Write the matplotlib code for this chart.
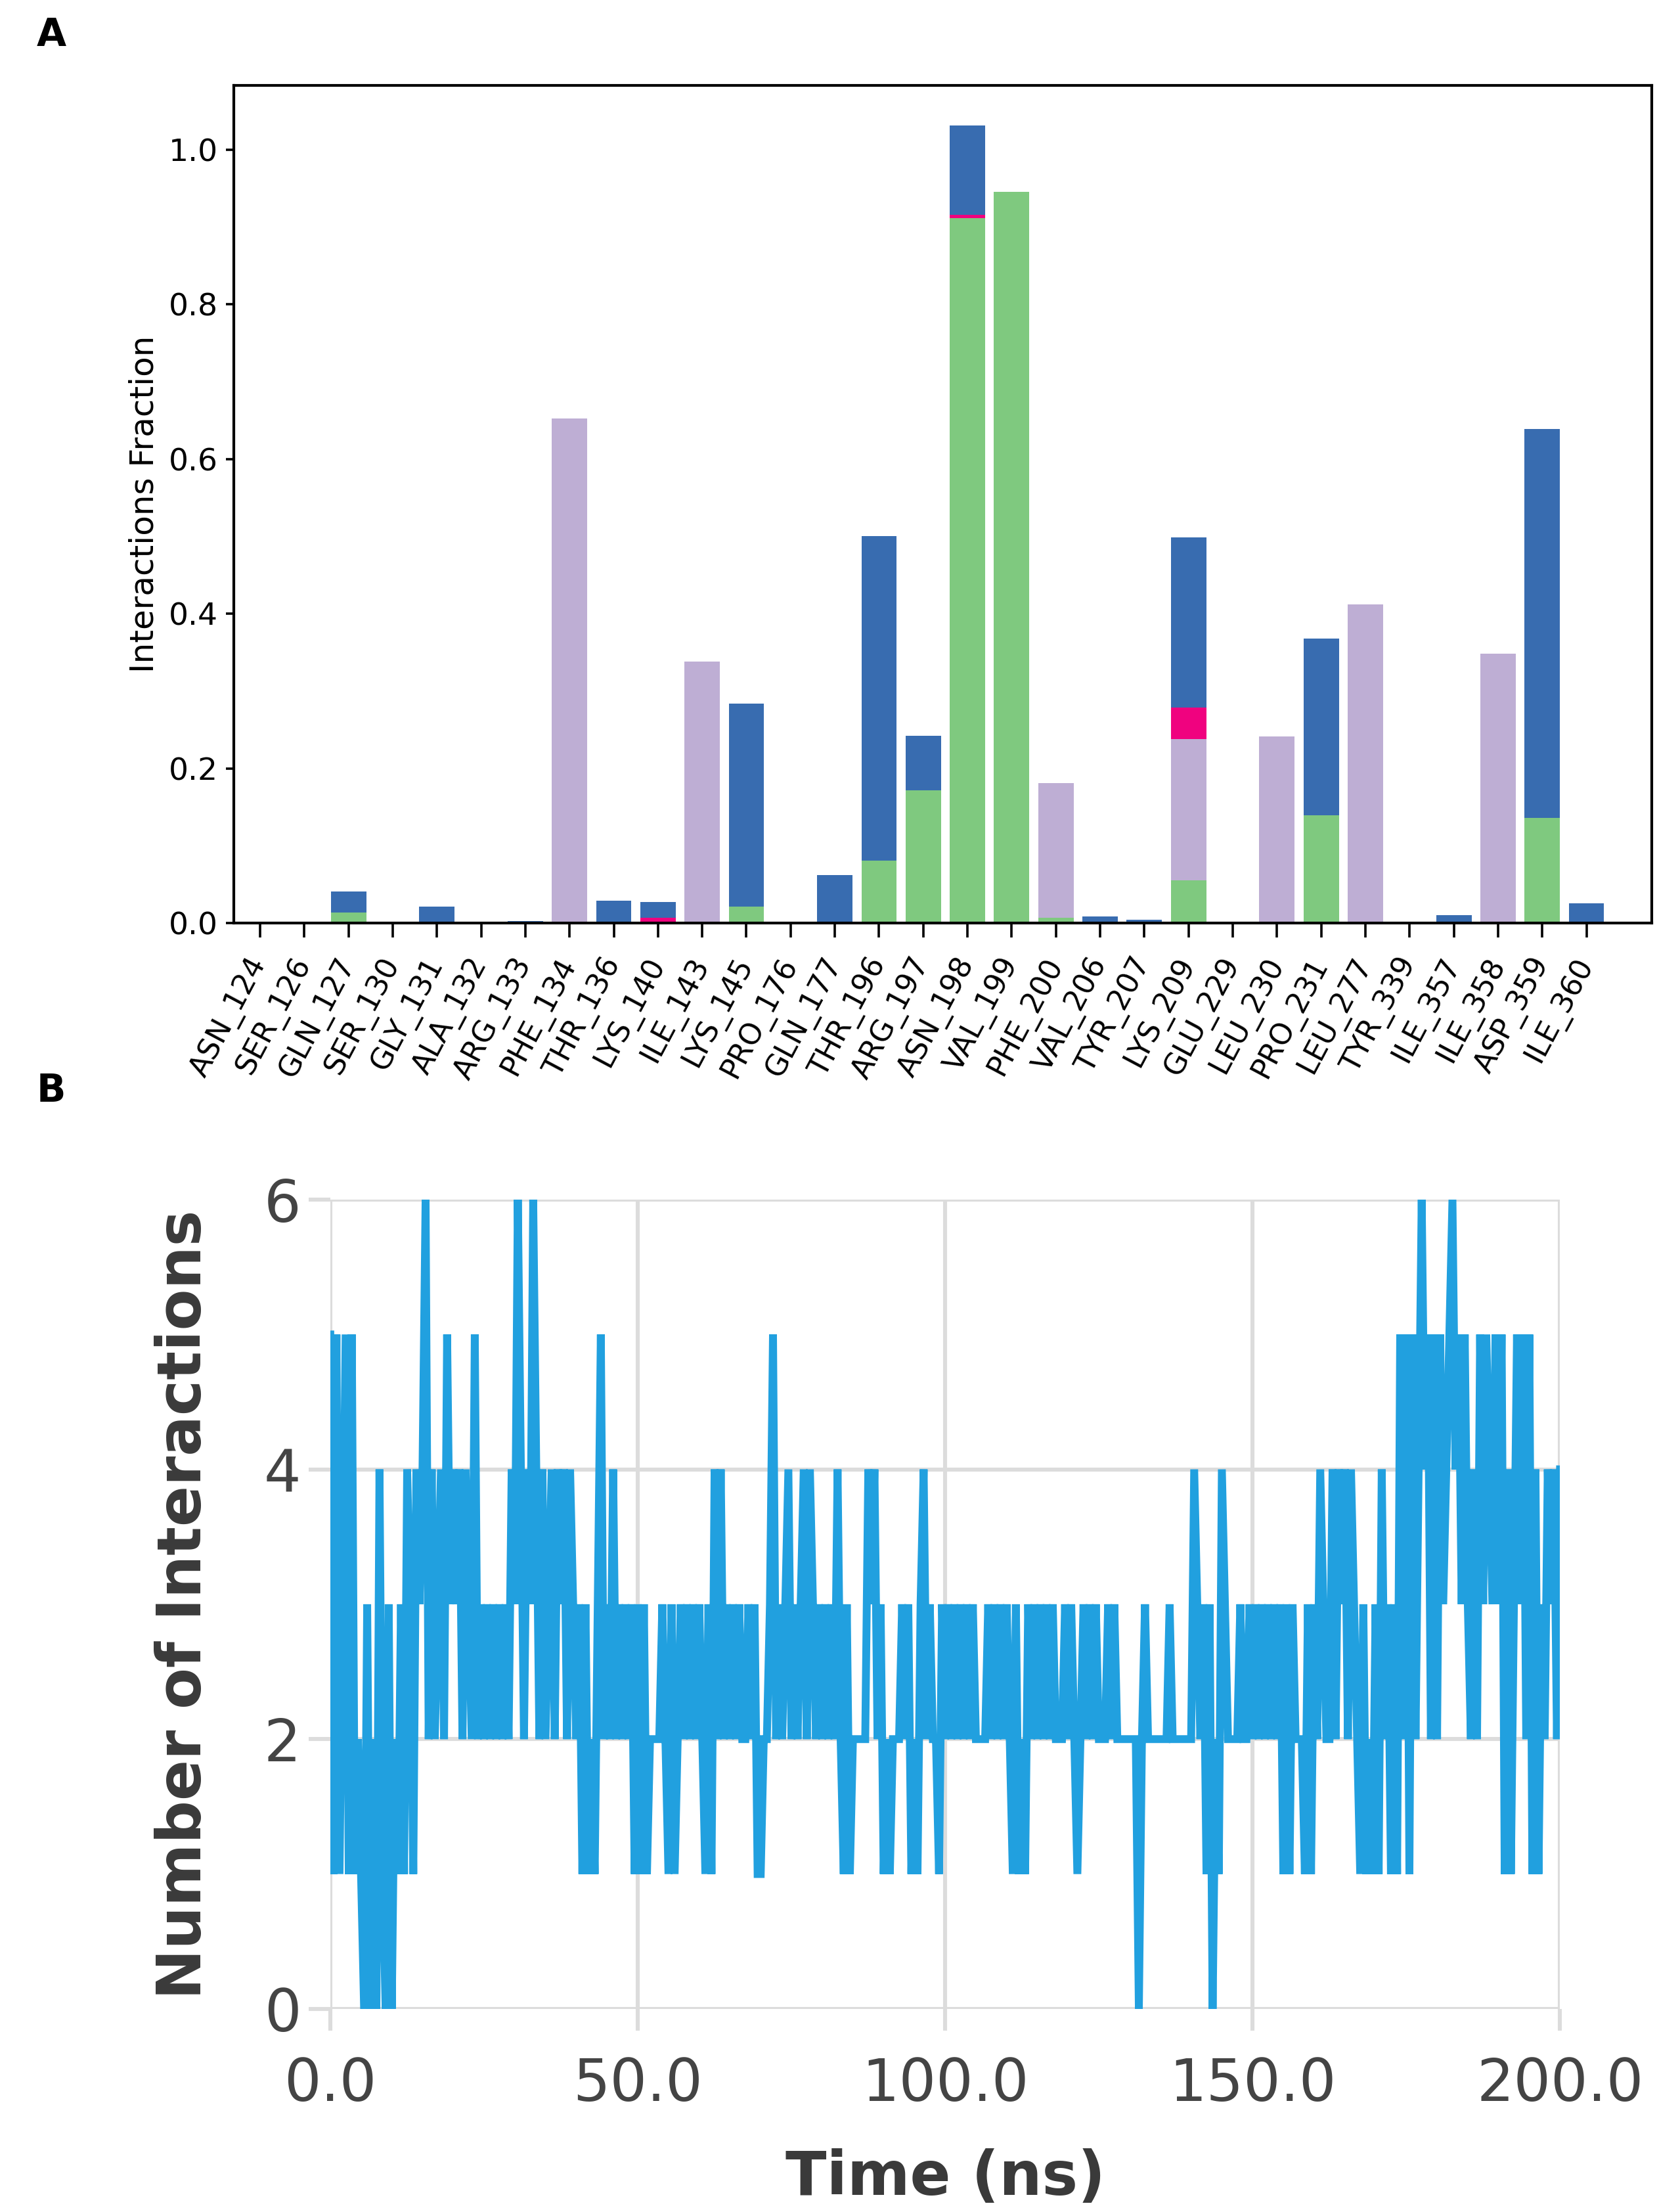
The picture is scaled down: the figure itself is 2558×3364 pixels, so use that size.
import matplotlib
matplotlib.use('Agg')
import matplotlib.pyplot as plt
import numpy as np

# ---- panel A: protein-ligand contacts (fraction of simulation time) ----
residues = ['ASN_124', 'SER_126', 'GLN_127', 'SER_130', 'GLY_131', 'ALA_132', 'ARG_133',
            'PHE_134', 'THR_136', 'LYS_140', 'ILE_143', 'LYS_145', 'PRO_176', 'GLN_177',
            'THR_196', 'ARG_197', 'ASN_198', 'VAL_199', 'PHE_200', 'VAL_206', 'TYR_207',
            'LYS_209', 'GLU_229', 'LEU_230', 'PRO_231', 'LEU_277', 'TYR_339', 'ILE_357',
            'ILE_358', 'ASP_359', 'ILE_360']
hbonds = [0, 0, 0.014, 0, 0, 0, 0, 0, 0, 0, 0, 0.021, 0, 0, 0.081, 0.172, 0.911, 0.945,
          0.007, 0, 0, 0.055, 0, 0, 0.139, 0, 0, 0, 0, 0.136, 0]
hydrophobic = [0, 0, 0, 0, 0, 0, 0, 0.652, 0, 0, 0.338, 0, 0, 0, 0, 0, 0, 0, 0.174, 0, 0,
               0.183, 0, 0.241, 0, 0.412, 0, 0, 0.348, 0, 0]
ionic = [0, 0, 0, 0, 0, 0, 0, 0, 0, 0.007, 0, 0, 0, 0, 0, 0, 0.005, 0, 0, 0, 0, 0.041,
         0, 0, 0, 0, 0, 0, 0, 0, 0]
water_bridges = [0, 0, 0.027, 0, 0.021, 0.002, 0.003, 0, 0.029, 0.020, 0, 0.263, 0.002,
                 0.062, 0.419, 0.070, 0.115, 0, 0, 0.009, 0.004, 0.220, 0.002, 0, 0.229,
                 0, 0, 0.010, 0, 0.503, 0.026]

# ---- panel B: number of contacts per frame, one digit per 0.5 ns, 10 ns per string ----
time_step = 0.5
count_chunks = [
    "51513515121030204103",  # 0-10 ns
    "02131431434624234253",
    "43424325232323232324",
    "36424364242342434243",
    "23131213523242323231",
    "31312222321312323232",  # 50-60 ns
    "32131424232323223231",
    "12235232342323424323",
    "23232421312222243423",
    "12122232312134232213",
    "23232323232222323232",  # 100-110 ns
    "32131213232323232223",
    "23212323232223232222",
    "22202322222223222222",
    "24323130214322223223",
    "23232323231313222131",  # 150-160 ns
    "32432242434243213121",
    "31423131525152464525",
    "25345645353242535435",
    "351413535251413243424",  # 190-200 ns
]
n_contacts = [int(c) for chunk in count_chunks for c in chunk]
times = np.arange(len(n_contacts)) * time_step

fig = plt.figure(figsize=(12.79, 16.82), dpi=200)

# Panel A
ax1 = fig.add_axes([0.139, 0.5823, 0.844, 0.3791])
x = np.arange(len(residues))
bottom = np.zeros(len(residues))
layers = [(hbonds, '#7fc97f'), (hydrophobic, '#beaed4'),
          (ionic, '#f0027f'), (water_bridges, '#386cb0')]
for vals, color in layers:
    vals = np.array(vals)
    ax1.bar(x, vals, 0.8, bottom=bottom, color=color, linewidth=0)
    bottom += vals

ax1.set_xlim(-0.6, 31.47)
ax1.set_ylim(0, 1.083)
ax1.set_xticks(x)
ax1.set_xticklabels(residues, rotation=62, ha='right', va='center',
                    rotation_mode='anchor', fontsize=16)
ax1.set_yticks([0.0, 0.2, 0.4, 0.6, 0.8, 1.0])
ax1.set_yticklabels(['0.0', '0.2', '0.4', '0.6', '0.8', '1.0'], fontsize=17)
ax1.tick_params(axis='x', length=8, width=1.3, pad=12)
ax1.tick_params(axis='y', length=4.5, width=1.3, pad=4)
for s in ax1.spines.values():
    s.set_linewidth(1.5)
ax1.set_ylabel('Interactions Fraction', fontsize=18)
ax1.yaxis.set_label_coords(-0.052, 0.5)

# Panel B
ax2 = fig.add_axes([0.1966, 0.091, 0.7320, 0.3662])
ax2.plot(times, n_contacts, color='#21a0df', lw=4.3, solid_joinstyle='miter')
ax2.set_xlim(0, 200)
ax2.set_ylim(0, 6)
ax2.set_xticks([0, 50, 100, 150, 200])
ax2.set_xticklabels(['0.0', '50.0', '100.0', '150.0', '200.0'])
ax2.set_yticks([0, 2, 4, 6])
ax2.set_axisbelow(True)
ax2.grid(True, color='#dcdcdc', lw=2.2)
for s in ax2.spines.values():
    s.set_visible(False)
ax2.tick_params(axis='both', color='#dcdcdc', width=2.2, length=12,
                labelcolor='#444444', labelsize=32)
ax2.tick_params(axis='x', pad=14)
ax2.tick_params(axis='y', pad=4)
ax2.set_xlabel('Time (ns)', fontsize=33, fontweight='bold', color='#3a3a3a')
ax2.xaxis.set_label_coords(0.5, -0.172)
ax2.set_ylabel('Number of Interactions', fontsize=33, fontweight='bold', color='#3a3a3a')
ax2.yaxis.set_label_coords(-0.095, 0.5)

fig.text(0.0305, 0.984, 'A', fontsize=21, fontweight='bold', ha='center', va='center')
fig.text(0.0305, 0.5065, 'B', fontsize=21, fontweight='bold', ha='center', va='center')

fig.savefig('out.png', dpi=200, facecolor='white')
